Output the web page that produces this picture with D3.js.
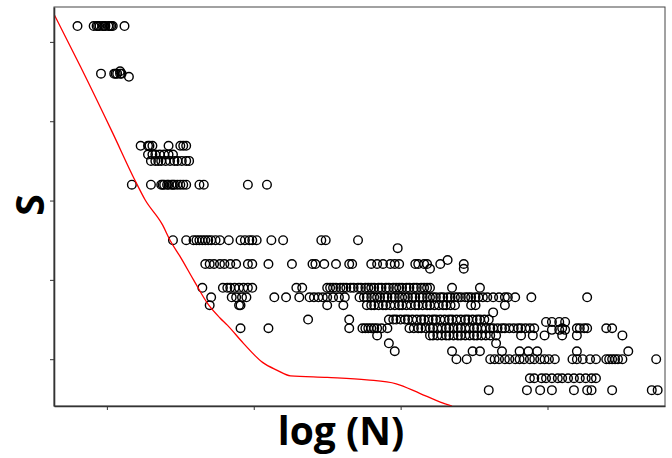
<!DOCTYPE html>
<html>
<head>
<meta charset="utf-8">
<script src="https://cdn.jsdelivr.net/npm/d3@7"></script>
<style>
  body { margin: 0; background: #fff; }
  svg { display: block; }
  .axis path, .axis line { stroke: #333; }
  .pt { fill: none; stroke: #000; stroke-width: 1.4; }
</style>
</head>
<body>
<svg id="chart" width="672" height="458"></svg>
<script>
// S levels (rows of the scatter) and the log(N) values found on each row
const sLevels = [5.20, 4.63, 4.60, 4.56, 3.69, 3.58, 3.50, 3.20, 2.50, 2.40, 2.25, 2.20, 2.14,
  1.90, 1.78, 1.68, 1.59, 1.50, 1.47, 1.39, 1.37, 1.30, 1.20, 1.10, 1.00, 0.76, 0.61];

const logNByLevel = [
  [0.80, 0.91, 0.93, 0.94, 0.95, 0.97, 0.98, 0.99, 1.01, 1.02, 1.03, 1.04, 1.12],
  [1.09],
  [0.96, 1.05, 1.06, 1.07, 1.09, 1.10],
  [1.15],
  [1.23, 1.28, 1.29, 1.31, 1.42, 1.50, 1.52, 1.54],
  [1.28, 1.31, 1.33, 1.36, 1.39, 1.42, 1.45],
  [1.30, 1.33, 1.35, 1.37, 1.40, 1.43, 1.46, 1.48, 1.51, 1.54, 1.56],
  [1.17, 1.30, 1.37, 1.38, 1.39, 1.41, 1.42, 1.44, 1.45, 1.46, 1.48, 1.50, 1.52, 1.54, 1.63, 1.66, 1.96, 2.09],
  [1.45, 1.54, 1.59, 1.61, 1.63, 1.65, 1.67, 1.69, 1.71, 1.74, 1.77, 1.83, 1.91, 1.94, 1.97, 1.99, 2.02,
    2.12, 2.20, 2.46, 2.49, 2.71],
  [2.98],
  [3.32],
  [1.67, 1.70, 1.73, 1.77, 1.80, 1.84, 1.88, 1.96, 1.99, 2.10, 2.26, 2.40, 2.42, 2.48, 2.56, 2.65, 2.67,
    2.80, 2.84, 2.88, 2.93, 2.96, 2.99, 3.10, 3.12, 3.16, 3.18, 3.27, 3.43],
  [3.20, 3.43],
  [1.65, 1.79, 1.82, 1.84, 1.87, 1.90, 1.93, 1.96, 1.99, 2.29, 2.33, 2.50, 2.52, 2.54, 2.56, 2.59, 2.61,
    2.63, 2.66, 2.68, 2.71, 2.73, 2.76, 2.78, 2.80, 2.82, 2.85, 2.87, 2.90, 2.92, 2.95, 2.97, 2.99, 3.01,
    3.04, 3.06, 3.09, 3.11, 3.14, 3.16, 3.18, 3.20, 3.35, 3.54],
  [1.71, 1.85, 1.88, 1.92, 1.95, 2.14, 2.22, 2.31, 2.38, 2.41, 2.44, 2.47, 2.50, 2.54, 2.58, 2.62, 2.72,
    2.75, 2.77, 2.80, 2.82, 2.84, 2.86, 2.89, 2.91, 2.94, 2.96, 2.99, 3.01, 3.03, 3.05, 3.08, 3.10, 3.13,
    3.15, 3.18, 3.20, 3.22, 3.24, 3.27, 3.29, 3.32, 3.34, 3.37, 3.39, 3.41, 3.44, 3.46, 3.48, 3.51, 3.53,
    3.56, 3.59, 3.63, 3.67, 3.71, 3.73, 3.78, 3.89, 4.27],
  [1.70, 1.90, 1.91, 2.50, 2.61, 2.77, 2.80, 2.82, 2.85, 2.88, 2.90, 2.93, 2.96, 2.99, 3.01, 3.04, 3.07,
    3.10, 3.12, 3.15, 3.18, 3.20, 3.23, 3.26, 3.29, 3.31, 3.34, 3.37, 3.48, 3.51, 3.71],
  [3.63],
  [2.37, 2.65, 2.92, 2.95, 2.97, 3.00, 3.03, 3.05, 3.08, 3.11, 3.14, 3.16, 3.19, 3.22, 3.24, 3.27, 3.30,
    3.33, 3.35, 3.38, 3.41, 3.44, 3.46, 3.49, 3.52, 3.54, 3.57, 3.60],
  [3.99, 4.03, 4.08, 4.12],
  [1.91, 2.10, 2.65, 2.74, 2.76, 2.78, 2.80, 2.82, 2.84, 2.87, 2.91, 3.06, 3.09, 3.12, 3.14, 3.17, 3.20,
    3.22, 3.25, 3.28, 3.31, 3.33, 3.36, 3.39, 3.41, 3.44, 3.47, 3.50, 3.52, 3.55, 3.58, 3.61, 3.63, 3.66,
    3.69, 3.71, 3.74, 3.77, 3.80, 3.82, 3.85, 3.88, 3.91, 4.10, 4.20, 4.22, 4.25, 4.27, 4.40, 4.44],
  [4.03, 4.08, 4.12],
  [2.84, 3.20, 3.22, 3.25, 3.28, 3.31, 3.33, 3.36, 3.39, 3.41, 3.44, 3.47, 3.50, 3.52, 3.55, 3.58, 3.61,
    3.65, 3.82, 3.90, 3.98, 4.10, 4.20, 4.51],
  [2.92, 3.65],
  [2.96, 3.35, 3.49, 3.54, 3.69, 3.81, 3.87, 3.93, 4.20, 4.55],
  [3.38, 3.45, 3.61, 3.64, 3.67, 3.71, 3.74, 3.78, 3.81, 3.84, 3.88, 3.91, 3.95, 3.98, 4.01, 4.05, 4.17,
    4.20, 4.24, 4.29, 4.33, 4.40, 4.42, 4.44, 4.46, 4.48, 4.51, 4.74],
  [3.88, 3.91, 3.96, 3.99, 4.03, 4.07, 4.10, 4.14, 4.18, 4.22, 4.26, 4.30, 4.33],
  [3.60, 3.86, 3.95, 4.03, 4.18, 4.27, 4.30, 4.44, 4.71, 4.75]
];

// red boundary curve
const curveLogN = [0.64, 0.82, 1.04, 1.19, 1.26, 1.38, 1.43, 1.50, 1.59, 1.69, 1.77, 1.82, 1.93, 2.06,
  2.16, 2.25, 2.50, 2.77, 2.97, 3.13, 3.27, 3.35];
const curveS = [5.35, 4.69, 3.85, 3.26, 3.01, 2.69, 2.50, 2.29, 2.00, 1.69, 1.52, 1.43, 1.20, 0.96,
  0.86, 0.79, 0.77, 0.74, 0.69, 0.57, 0.46, 0.41];

const xTicks = [1, 2, 3, 4];
const yTicks = [1, 2, 3, 4, 5];

const svg = d3.select('#chart');
const plotLeft = 54, plotRight = 665, plotTop = 7, plotBottom = 406;

const x = d3.scaleLinear().domain([0.64, 4.80]).range([plotLeft, plotRight]);
const y = d3.scaleLinear().domain([0.41, 5.44]).range([plotBottom, plotTop]);

svg.append('defs').append('clipPath').attr('id', 'plot')
  .append('rect').attr('x', plotLeft).attr('y', plotTop)
  .attr('width', plotRight - plotLeft).attr('height', plotBottom - plotTop);

// frame
svg.append('rect')
  .attr('x', plotLeft).attr('y', plotTop)
  .attr('width', plotRight - plotLeft).attr('height', plotBottom - plotTop)
  .attr('fill', 'none').attr('stroke', '#444').attr('stroke-width', 1);

const points = sLevels.flatMap((s, i) => logNByLevel[i].map((n) => ({ n, s })));

svg.append('g')
  .selectAll('circle')
  .data(points)
  .join('circle')
  .attr('class', 'pt')
  .attr('cx', (d) => x(d.n))
  .attr('cy', (d) => y(d.s))
  .attr('r', 4.3);

const line = d3.line().curve(d3.curveMonotoneX).x((d) => x(d[0])).y((d) => y(d[1]));
svg.append('path')
  .datum(curveLogN.map((n, i) => [n, curveS[i]]))
  .attr('clip-path', 'url(#plot)')
  .attr('fill', 'none')
  .attr('stroke', '#ff0000')
  .attr('stroke-width', 1.3)
  .attr('d', line);

svg.append('g')
  .attr('class', 'axis')
  .attr('transform', `translate(0,${plotBottom})`)
  .call(d3.axisBottom(x).tickValues(xTicks).tickFormat('').tickSizeInner(4).tickSizeOuter(0))
  .call((g) => g.select('.domain').attr('stroke-width', 1.6));

svg.append('g')
  .attr('class', 'axis')
  .attr('transform', `translate(${plotLeft},0)`)
  .call(d3.axisLeft(y).tickValues(yTicks).tickFormat('').tickSizeInner(4).tickSizeOuter(0))
  .call((g) => g.select('.domain').attr('stroke-width', 1.6));

svg.append('text')
  .attr('x', 341).attr('y', 445)
  .attr('text-anchor', 'middle')
  .attr('font-family', 'Open Sans, sans-serif')
  .attr('font-weight', 'bold')
  .attr('font-size', 39)
  .attr('fill', '#000')
  .text('log (N)');

svg.append('text')
  .attr('transform', 'translate(44,205) rotate(-90)')
  .attr('text-anchor', 'middle')
  .attr('font-family', 'Open Sans, sans-serif')
  .attr('font-weight', 'bold')
  .attr('font-size', 39)
  .attr('fill', '#000')
  .text('S');
</script>
</body>
</html>
